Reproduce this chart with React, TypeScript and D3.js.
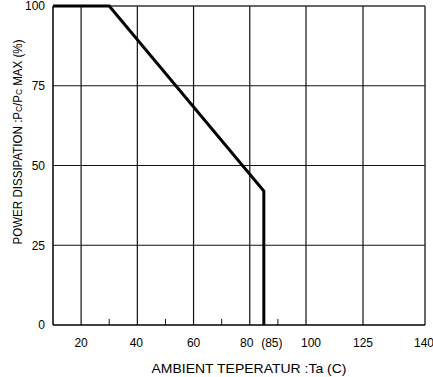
import React from 'react';
import * as d3 from 'd3';

// derating curve: ambient temperature (C) vs allowed dissipation (%)
const curveTemp = [10, 30, 85, 85];
const curvePower = [100, 100, 42, 0];

const gridTemps = [20, 40, 60, 80, 100, 125];
const minorTemps = [30, 50, 70, 90];
const xTickLabels = ['20', '40', '60', '80', '(85)', '100', '125', '140'];
const xTickValues = [20, 40, 60, 80, 85, 100, 125, 140];
const xLabelNudge = [0, -1, 0, -3, 8, 5, 0, -1];
const yTicks = [0, 25, 50, 75, 100];

const App = () => {
  const width = 433;
  const height = 377;

  // the axis is not uniform: 100 -> 125 -> 140 are drawn at equal steps
  const xScale = d3.scaleLinear()
    .domain([10, 100, 125, 140])
    .range([53, 306, 363, 425]);

  const yScale = d3.scaleLinear()
    .domain([0, 100])
    .range([325, 6]);

  const pts = curveTemp.map((t, i) => [t, curvePower[i]] as [number, number]);
  const line = d3.line<[number, number]>()
    .x(d => xScale(d[0]))
    .y(d => yScale(d[1]));

  const font = '"Liberation Sans", Arial, sans-serif';

  return (
    <svg width={width} height={height}
      style={{ position: 'absolute', left: 0, top: 0, background: 'white' }}
      fontFamily={font}>
      {/* horizontal grid */}
      {yTicks.filter(v => v > 0 && v < 100).map(v => (
        <line key={'h' + v} x1={xScale(10)} x2={xScale(140)} y1={yScale(v)} y2={yScale(v)}
          stroke='#111' strokeWidth={1.2} />
      ))}
      {/* vertical grid */}
      {gridTemps.map(t => (
        <line key={'v' + t} x1={xScale(t)} x2={xScale(t)} y1={yScale(100)} y2={yScale(0)}
          stroke='#111' strokeWidth={1.2} />
      ))}
      {/* minor ticks */}
      {minorTemps.map(t => (
        <line key={'m' + t} x1={xScale(t)} x2={xScale(t)} y1={yScale(0)} y2={yScale(0) - 6}
          stroke='#111' strokeWidth={1} />
      ))}
      {/* frame */}
      <line x1={xScale(10)} x2={xScale(140)} y1={yScale(100)} y2={yScale(100)} stroke='#333' strokeWidth={1.5} />
      <line x1={xScale(140)} x2={xScale(140)} y1={yScale(100)} y2={yScale(0)} stroke='#333' strokeWidth={1.5} />
      <line x1={xScale(10)} x2={xScale(10)} y1={yScale(100)} y2={yScale(0)} stroke='#000' strokeWidth={1.5} />
      <line x1={xScale(10)} x2={xScale(140)} y1={yScale(0)} y2={yScale(0)} stroke='#000' strokeWidth={1.5} />

      {/* curve */}
      <path d={line(pts) || ''} fill='none' stroke='#000' strokeWidth={3} strokeLinejoin='miter' />

      {/* y tick labels */}
      {yTicks.map(v => (
        <text key={'yt' + v} x={45} y={yScale(v)} dy='0.36em' textAnchor='end' fontSize={12} fill='#000'>{v}</text>
      ))}
      {/* x tick labels */}
      {xTickValues.map((t, i) => (
        <text key={'xt' + t} x={xScale(t) + xLabelNudge[i]} y={347} textAnchor='middle' fontSize={12} fill='#000'>{xTickLabels[i]}</text>
      ))}

      <text x={249} y={373} textAnchor='middle' fontSize={13} textLength={195} lengthAdjust='spacingAndGlyphs' fill='#000'>AMBIENT TEPERATUR :Ta (C)</text>
      <text transform='translate(22,142) rotate(-90)' textAnchor='middle' fontSize={12.5} fill='#000'
        textLength={205} lengthAdjust='spacingAndGlyphs'>
        POWER DISSIPATION :P<tspan fontSize={9}>C</tspan>/P<tspan fontSize={9}>C</tspan> MAX (%)
      </text>
    </svg>
  );
};

export default App;
